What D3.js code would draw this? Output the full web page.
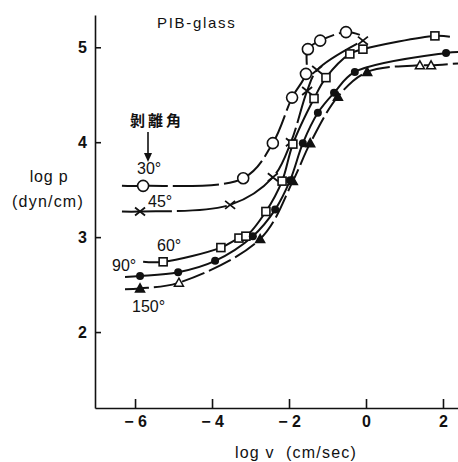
<!DOCTYPE html>
<html>
<meta charset="utf-8">
<script src="https://cdn.jsdelivr.net/npm/d3@7"></script>
<style>
body { margin: 0; background: #fff; }
svg { display: block; }
text { font-family: "Liberation Sans", Arial, sans-serif; fill: #111; }
.tick text { font-size: 16px; font-weight: bold; }
.domain, .tick line { stroke: #111; stroke-width: 1.6px; }
.curve { fill: none; stroke: #111; stroke-width: 2px; }
</style>
<body>
<svg id="chart" width="458" height="462"></svg>
</body>
<script>
// ticks
const xTicks = [-6, -4, -2, 0, 2];
const yTicks = [2, 3, 4, 5];

// peel angles
const angles = ["30°", "45°", "60°", "90°", "150°"];

// measured points [log v, log p]
const p30 = [[-5.79, 3.54], [-3.19, 3.62], [-2.42, 3.99], [-1.92, 4.47], [-1.56, 4.72], [-1.51, 4.98], [-1.19, 5.07], [-0.52, 5.16]];
const p45 = [[-5.87, 3.27], [-3.53, 3.34], [-2.42, 3.63], [-1.95, 4.00], [-1.53, 4.54], [-1.27, 4.76], [-0.08, 5.07]];
const p60 = [[-5.27, 2.74], [-3.77, 2.89], [-3.30, 2.99], [-3.12, 3.01], [-2.60, 3.27], [-2.18, 3.59], [-1.90, 3.98], [-1.35, 4.46], [-1.04, 4.68], [-0.42, 4.93], [-0.08, 4.98], [1.79, 5.12]];
const p90 = [[-5.87, 2.59], [-4.88, 2.63], [-3.92, 2.75], [-2.94, 3.01], [-2.36, 3.29], [-1.97, 3.60], [-1.64, 3.99], [-1.25, 4.31], [-0.83, 4.52], [-0.29, 4.74], [2.08, 4.94]];
const p150 = [[-5.87, 2.46], [-4.86, 2.52], [-2.75, 2.98], [-1.90, 3.59], [-1.45, 3.99], [-0.73, 4.48], [0.03, 4.74], [1.40, 4.81], [1.69, 4.81]];
const open150 = [false, true, false, false, false, false, false, true, true];

// where each drawn curve begins and ends beyond the markers
const lineStart = [[-6.34, 3.54], [-6.34, 3.27], [-5.79, 2.74], [-6.26, 2.58], [-6.26, 2.45]];
const lineEnd = [[-0.16, 5.13], null, [2.18, 5.11], [2.39, 4.95], [2.39, 4.83]];

const svg = d3.select("#chart");

const x = d3.scaleLinear().domain([-7.04, 2.39]).range([95, 458]);
const y = d3.scaleLinear().domain([1.2, 5.34]).range([408, 15]);

// axes
svg.append("g")
	.attr("transform", "translate(0," + y(1.2) + ")")
	.call(d3.axisBottom(x).tickValues(xTicks).tickSizeInner(-9).tickSizeOuter(0).tickPadding(8)
		.tickFormat(d => d < 0 ? "\u2212 " + Math.abs(d) : d))
	.call(g => g.selectAll(".tick text").style("white-space", "pre"));

svg.append("g")
	.attr("transform", "translate(" + x(-7.04) + ",0)")
	.call(d3.axisLeft(y).tickValues(yTicks).tickSizeInner(-6).tickSizeOuter(0).tickPadding(8)
		.tickFormat(d3.format("d")));

// curves
const series = [p30, p45, p60, p90, p150];
const dashes = ["46,5", "50,5", "none", "none", "24,5"];

const line = d3.line()
	.x(d => x(d[0]))
	.y(d => y(d[1]))
	.curve(d3.curveCatmullRom.alpha(0.5));

series.forEach(function(pts, i){
	let all = [lineStart[i]].concat(pts);
	if (lineEnd[i]) all.push(lineEnd[i]);
	svg.append("path")
		.attr("class", "curve")
		.attr("d", line(all))
		.style("stroke-dasharray", dashes[i]);
});

// markers
const mk = svg.append("g");

mk.selectAll(".m30").data(p30).join("circle")
	.attr("cx", d => x(d[0])).attr("cy", d => y(d[1])).attr("r", 5.5)
	.attr("fill", "#fff").attr("stroke", "#111").attr("stroke-width", 1.6);

mk.selectAll(".m45").data(p45).join("path")
	.attr("transform", d => "translate(" + x(d[0]) + "," + y(d[1]) + ")")
	.attr("d", "M-5,-4L5,4M-5,4L5,-4")
	.attr("stroke", "#111").attr("stroke-width", 1.8).attr("fill", "none");

mk.selectAll(".m60").data(p60).join("rect")
	.attr("x", d => x(d[0]) - 4).attr("y", d => y(d[1]) - 4)
	.attr("width", 8).attr("height", 8)
	.attr("fill", "#fff").attr("stroke", "#111").attr("stroke-width", 1.6);

mk.selectAll(".m90").data(p90).join("circle")
	.attr("cx", d => x(d[0])).attr("cy", d => y(d[1])).attr("r", 4)
	.attr("fill", "#111");

mk.selectAll(".m150").data(p150).join("path")
	.attr("transform", d => "translate(" + x(d[0]) + "," + y(d[1]) + ")")
	.attr("d", "M0,-4.5L4.5,3.5L-4.5,3.5Z")
	.attr("fill", (d, i) => open150[i] ? "#fff" : "#111")
	.attr("stroke", "#111").attr("stroke-width", 1.5);

// labels
svg.append("text").attr("x", 157).attr("y", 28)
	.style("font-size", "15px").style("letter-spacing", "1.7px")
	.text("PIB-glass");

svg.append("text").attr("x", 157).attr("y", 126).attr("text-anchor", "middle")
	.style("font-family", "'Noto Sans CJK JP', sans-serif")
	.style("font-size", "15px").style("font-weight", "bold").style("letter-spacing", "3px")
	.text("剝離角");

svg.append("line").attr("x1", 148).attr("y1", 132).attr("x2", 148).attr("y2", 156)
	.attr("stroke", "#111").attr("stroke-width", 1.6);
svg.append("path").attr("d", "M144,153L148,162L152,153Z").attr("fill", "#111");

const labelPos = [[137, 174], [148, 207], [157, 251], [112, 271], [132, 312]];
angles.forEach(function(a, i){
	svg.append("text").attr("x", labelPos[i][0]).attr("y", labelPos[i][1])
		.style("font-size", "16px")
		.text(a);
});

svg.append("text").attr("x", 49).attr("y", 182).attr("text-anchor", "middle")
	.style("font-size", "16px").style("letter-spacing", "0.8px").text("log p");
svg.append("text").attr("x", 48).attr("y", 207).attr("text-anchor", "middle")
	.style("font-size", "16px").style("letter-spacing", "1.2px").text("(dyn/cm)");

svg.append("text").attr("x", 296).attr("y", 458).attr("text-anchor", "middle")
	.style("font-size", "16px").style("letter-spacing", "1.2px").style("white-space", "pre")
	.text("log v  (cm/sec)");
</script>
</html>
